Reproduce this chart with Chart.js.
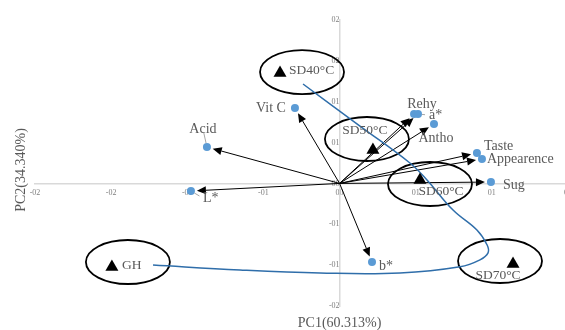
<!DOCTYPE html>
<html>
<head>
<meta charset="utf-8">
<script src="https://cdn.jsdelivr.net/npm/chart.js@4.4.1/dist/chart.umd.min.js"></script>
<style>
  html, body { margin: 0; padding: 0; background: #fff; overflow: hidden; }
  #wrap { width: 580px; height: 330px; }
</style>
</head>
<body>
<div id="wrap"><canvas id="biplot" width="580" height="330"></canvas></div>
<script>
// PCA loadings of the quality attributes (PC1, PC2)
const variableNames = ['Vit C', 'Acid', 'L*', 'b*', 'Rehy', 'a*', 'Antho', 'Taste', 'Appearence', 'Sug'];
const variablePC1 = [-0.0293, -0.0871, -0.0976, 0.0213, 0.0489, 0.0515, 0.0620, 0.0902, 0.0935, 0.0994];
const variablePC2 = [0.0923, 0.0445, -0.0093, -0.0962, 0.0849, 0.0849, 0.0727, 0.0372, 0.0299, 0.0017];

// PCA scores of the drying treatments
const sampleNames = ['SD40°C', 'SD50°C', 'SD60°C', 'SD70°C', 'GH'];
const samplePC1 = [-0.0391, 0.0219, 0.0528, 0.1139, -0.1495];
const samplePC2 = [0.1351, 0.0409, 0.0042, -0.0986, -0.1023];

// Trend path linking the treatments
const trendPC1 = [-0.0240, 0.0134, 0.0462, 0.0574, 0.0745, 0.0902, 0.0969, 0.0975, 0.0922, 0.0791, 0.0397, -0.0129, -0.0654, -0.1225];
const trendPC2 = [0.1217, 0.0702, 0.0250, 0.0042, -0.0326, -0.0571, -0.0754, -0.0850, -0.0935, -0.1021, -0.1096, -0.1096, -0.1060, -0.0999];

// Axis tick labels (one-decimal format without the point)
const xTickLabels = ['-02', '-02', '-01', '-01', '00', '01', '01', '02'];
const yTickLabels = ['-02', '-01', '-01', '00', '01', '01', '02', '02'];

const axisTitleX = 'PC1(60.313%)';
const axisTitleY = 'PC2(34.340%)';

// Label placement in pixels relative to each mark: [dx, dy, textAlign, leader line]
const variableLabelLayout = [
  [-9, 0, 'right', false], [-4, -18, 'center', true], [12, 7, 'left', true], [7, 4, 'left', false],
  [8, -10, 'center', false], [11, 1, 'left', true], [2, 14, 'center', false], [7, -7, 'left', false],
  [5, 0, 'left', false], [12, 3, 'left', false]
];
const sampleLabelLayout = [
  [9, -3, 'left'], [-8, -20, 'center'], [21, 11, 'center'], [-15, 11, 'center'], [10, -2, 'left']
];
const ellipseLayout = [[22, -1], [-6, -11], [10, 4], [-13, -3], [16, -5]];

const SERIF = "'Liberation Serif', 'Times New Roman', serif";

const toPoints = (xs, ys) => xs.map((v, i) => ({ x: v, y: ys[i] }));

const biplotDecor = {
  id: 'biplotDecor',
  beforeDatasetsDraw(chart) {
    const { ctx, scales: { x, y } } = chart;
    const ox = x.getPixelForValue(0), oy = y.getPixelForValue(0);
    ctx.save();
    // loading vectors from the origin
    ctx.strokeStyle = '#000';
    ctx.fillStyle = '#000';
    ctx.lineWidth = 1;
    variablePC1.forEach((v, i) => {
      const px = x.getPixelForValue(v), py = y.getPixelForValue(variablePC2[i]);
      const dx = px - ox, dy = py - oy, len = Math.hypot(dx, dy);
      const ux = dx / len, uy = dy / len;
      const tipX = px - ux * 6, tipY = py - uy * 6;
      const head = 9, half = 4;
      const bx = tipX - ux * head, by = tipY - uy * head;
      ctx.beginPath();
      ctx.moveTo(ox, oy);
      ctx.lineTo(bx, by);
      ctx.stroke();
      ctx.beginPath();
      ctx.moveTo(tipX, tipY);
      ctx.lineTo(bx - uy * half, by + ux * half);
      ctx.lineTo(bx + uy * half, by - ux * half);
      ctx.closePath();
      ctx.fill();
    });
    // rings around the treatment labels
    ctx.lineWidth = 1.8;
    samplePC1.forEach((v, i) => {
      const [ex, ey] = ellipseLayout[i];
      ctx.beginPath();
      ctx.ellipse(x.getPixelForValue(v) + ex, y.getPixelForValue(samplePC2[i]) + ey, 42, 22, 0, 0, Math.PI * 2);
      ctx.stroke();
    });
    ctx.restore();
  },
  afterDatasetsDraw(chart) {
    const { ctx, scales: { x, y } } = chart;
    ctx.save();
    ctx.textBaseline = 'middle';
    ctx.font = '14px ' + SERIF;
    variableNames.forEach((name, i) => {
      const [dx, dy, align, leader] = variableLabelLayout[i];
      const px = x.getPixelForValue(variablePC1[i]), py = y.getPixelForValue(variablePC2[i]);
      if (leader) {
        // short connector between the marker and its label
        const len = Math.hypot(dx, dy);
        const sx = px + dx / len * 4, sy = py + dy / len * 4;
        const ex = px + dx / len * (len - 4), ey = py + dy / len * (len - 4);
        ctx.strokeStyle = '#a6a6a6';
        ctx.lineWidth = 1;
        ctx.beginPath();
        ctx.moveTo(sx, sy);
        ctx.lineTo(ex, ey);
        ctx.stroke();
      }
      ctx.fillStyle = '#595959';
      ctx.textAlign = align;
      ctx.fillText(name, px + dx, py + dy);
    });
    ctx.font = '13.5px ' + SERIF;
    sampleNames.forEach((name, i) => {
      const [dx, dy, align] = sampleLabelLayout[i];
      ctx.textAlign = align;
      ctx.fillText(name, x.getPixelForValue(samplePC1[i]) + dx, y.getPixelForValue(samplePC2[i]) + dy);
    });
    ctx.restore();
  },
  afterDraw(chart) {
    const { ctx, chartArea } = chart;
    const ox = chart.scales.x.getPixelForValue(0);
    ctx.save();
    ctx.fillStyle = '#595959';
    ctx.font = '14px ' + SERIF;
    ctx.textAlign = 'center';
    ctx.textBaseline = 'middle';
    ctx.fillText(axisTitleX, ox, chartArea.bottom + 17);
    ctx.translate(21, (chartArea.top + chartArea.bottom) / 2 + 7);
    ctx.rotate(-Math.PI / 2);
    ctx.fillText(axisTitleY, 0, 0);
    ctx.restore();
  }
};

new Chart(document.getElementById('biplot'), {
  type: 'scatter',
  data: {
    datasets: [
      {
        label: 'Attributes',
        data: toPoints(variablePC1, variablePC2),
        pointRadius: 4,
        pointHoverRadius: 4,
        backgroundColor: '#5b9bd5',
        borderWidth: 0
      },
      {
        label: 'Treatments',
        data: toPoints(samplePC1, samplePC2),
        pointStyle: 'triangle',
        pointRadius: 7.5,
        pointHoverRadius: 7.5,
        backgroundColor: '#000',
        borderWidth: 0
      },
      {
        label: 'Trend',
        data: toPoints(trendPC1, trendPC2),
        showLine: true,
        tension: 0.4,
        pointRadius: 0,
        borderColor: '#2f6eaa',
        borderWidth: 1.5,
        fill: false
      }
    ]
  },
  options: {
    responsive: false,
    animation: false,
    devicePixelRatio: 1,
    layout: { padding: { left: 35, top: 20, right: 12, bottom: 24 } },
    plugins: { legend: { display: false }, tooltip: { enabled: false } },
    scales: {
      x: {
        type: 'linear',
        position: { y: 0 },
        min: -0.2,
        max: 0.15,
        grid: { display: false, drawTicks: false },
        border: { display: true, color: '#d9d9d9', width: 1.5 },
        ticks: {
          stepSize: 0.05,
          autoSkip: false,
          maxRotation: 0,
          padding: 5,
          color: '#7f7f7f',
          font: { family: SERIF, size: 8 },
          callback: (v, i) => xTickLabels[i]
        }
      },
      y: {
        type: 'linear',
        position: { x: 0 },
        min: -0.15,
        max: 0.2,
        grid: { display: false, drawTicks: false },
        border: { display: true, color: '#d9d9d9', width: 1.5 },
        ticks: {
          stepSize: 0.05,
          autoSkip: false,
          padding: 4,
          color: '#7f7f7f',
          font: { family: SERIF, size: 8 },
          callback: (v, i) => yTickLabels[i]
        }
      }
    }
  },
  plugins: [biplotDecor]
});
</script>
</body>
</html>
